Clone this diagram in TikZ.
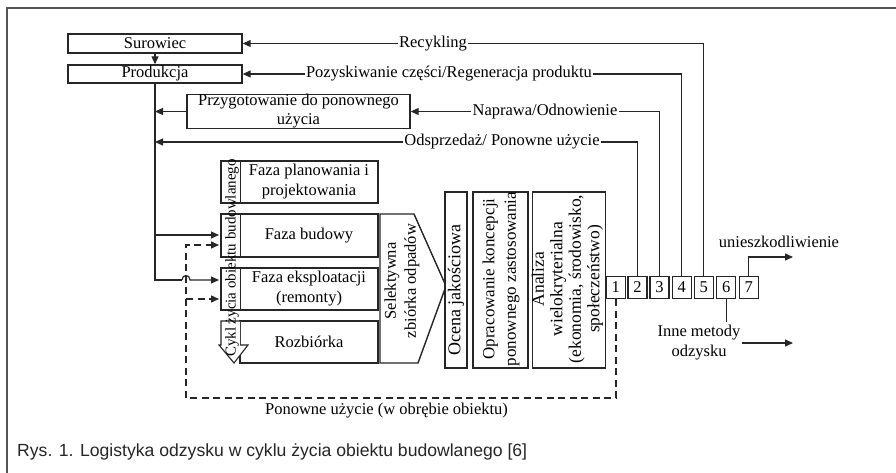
\documentclass[tikz,border=0pt]{standalone}
\usepackage{fontspec}
\setmainfont{Liberation Serif}
\newfontfamily\capfont{Liberation Sans}
\usetikzlibrary{arrows.meta}
\newcommand{\fsz}[2]{\fontsize{#1pt}{#2pt}\selectfont}
\definecolor{lc}{HTML}{262626}
\definecolor{fc}{HTML}{555555}
\begin{document}
\begin{tikzpicture}[x=1pt,y=-1pt,
  every node/.style={font=\fsz{16.5}{19}, text=black},
  ln/.style={draw=lc, line width=1.2pt},
  box/.style={draw=lc, line width=1.4pt, inner sep=0pt, align=center, fill=white},
  arr/.style={ln, -{Triangle[length=8pt,width=7pt]}},
  lbl/.style={fill=white, inner xsep=1.5pt, inner ysep=1pt},
  dsh/.style={ln, line width=1.4pt, dash pattern=on 7pt off 4.5pt},
  rot/.style={rotate=90, align=center, inner sep=0pt},
]
\useasboundingbox (0,0) rectangle (896,473);
% outer frame
\draw[fc, line width=1.2pt] (7,473) -- (7,8) -- (896,8);

% top boxes
\node[box, minimum width=174pt, minimum height=19pt] (sur) at (155,43.5) {Surowiec};
\node[box, minimum width=174pt, minimum height=18pt] (prod) at (155,74) {Produkcja};
\node[box, minimum width=223pt, minimum height=33pt] (prz) at (298.5,111.5) {Przygotowanie do ponownego\\użycia};

% phase boxes
\node[box, minimum width=138pt, minimum height=42pt, font=\fsz{16.5}{20}] (ph1) at (309,182) {Faza planowania i\\projektowania};
\node[box, minimum width=138pt, minimum height=43pt] (ph2) at (309,235.5) {Faza budowy};
\node[box, minimum width=138pt, minimum height=42pt, font=\fsz{16.5}{20}] (ph3) at (309,289) {Faza eksploatacji\\(remonty)};
\node[box, minimum width=138pt, minimum height=42pt] (ph4) at (309,342) {Rozbiórka};

% life cycle arrow
\draw[ln, line width=1.1pt, fill=white] (240,161) -- (221,161) -- (221,203) -- (240,203);
\draw[ln, line width=1.1pt, fill=white] (240,214) -- (221,214) -- (221,257) -- (240,257);
\draw[ln, line width=1.1pt, fill=white] (240,268) -- (221,268) -- (221,310) -- (240,310);
\draw[ln, line width=1.1pt, fill=white] (240,321) -- (221,321) -- (221,345) -- (219,345) -- (234,363) -- (248,345) -- (240,345);
\node[rot, font=\fsz{15}{17}] (cykl) at (232,258) {Cykl życia obiektu budowlanego};

% selective collection
\draw[ln, line width=1.4pt, fill=white] (380,214) -- (414,214) -- (446,286) -- (418,363) -- (380,363) -- cycle;
\node[rot, font=\fsz{16.5}{20}] (sel) at (402,281) {Selektywna\\zbiórka odpadów};

% columns
\node[box, minimum width=22pt, minimum height=176pt] (oc) at (456,280) {};
\node[rot, font=\fsz{18}{20}] (octx) at (456,290) {Ocena jakościowa};
\node[box, minimum width=55pt, minimum height=176pt] (op) at (500.4,280) {};
\node[rot, font=\fsz{17}{21.5}] (optx) at (501,279) {Opracowanie koncepcji\\ponownego zastosowania};
\node[box, minimum width=73pt, minimum height=176pt] (an) at (569.2,280) {};
\node[rot, font=\fsz{17.5}{18.5}] (antx) at (567.5,279) {Analiza\\wielokryterialna\\(ekonomia, środowisko,\\społeczeństwo)};

% number boxes
\foreach \i/\x in {1/615.8,2/637.5,3/659.5,4/681.7,5/703.7,6/726.2,7/748.8}{
  \node[box, minimum width=19pt, minimum height=22pt] (b\i) at (\x,287.5) {\i};
}

% return flows
\draw[arr] (sur.south) -- (prod.north);
\draw[arr] (b5.north) |- (sur.east);
\draw[arr] (b4.north) |- (prod.east);
\draw[arr] (b3.north) |- (prz.east);
\coordinate (odsp) at (155,142);
\draw[arr] (b2.north) |- (odsp);
\draw[arr] (prz.west) -- (prz.west -| prod.south);

% inputs to life cycle
\coordinate (in1) at (219,235);
\coordinate (in2) at (219,245);
\coordinate (in3) at (219,280);
\coordinate (in4) at (219,299);
\coordinate (hopl) at (182,280);
\coordinate (hopr) at (190,280);
\draw[ln] (prod.south) -- (prod.south |- in3) -- (hopl);
\draw[arr] (prod.south |- in1) -- (in1);
\draw[arr] (hopl) .. controls (182,274) and (190,274) .. (hopr) -- (in3);

% dashed reuse loop
\coordinate (dl) at (186,398);
\draw[dsh, -{Triangle[length=8pt,width=7pt]}] (b1.south) |- (dl) |- (in2);
\draw[dsh, -{Triangle[length=8pt,width=7pt]}] (dl |- in4) -- (in4);

% outputs 6 and 7
\node (unie) at (779,242) {unieszkodliwienie};
\coordinate (u7) at (793,257);
\draw[arr] (b7.north) |- (u7);
\node[align=center, inner sep=1pt, font=\fsz{16.5}{20}] (inne) at (699,343) {Inne metody\\odzysku};
\coordinate (s6) at (726.2,321.5);
\draw[ln] (b6.south) -- (s6);
\coordinate (o6) at (793,343);
\draw[arr] (inne.east) -- (o6);

% labels on lines
\node[lbl] (lrec) at (433,43.5) {Recykling};
\node[lbl] (lpoz) at (449,74) {Pozyskiwanie części/Regeneracja produktu};
\node[lbl] (lnap) at (545,111.5) {Naprawa/Odnowienie};
\node[lbl] (lods) at (502,142) {Odsprzedaż/ Ponowne użycie};
\node (lpon) at (386.5,411) {Ponowne użycie (w obrębie obiektu)};

% caption
\node[anchor=base west, inner sep=0pt, font=\capfont\fsz{17.6}{20}, text=black!85] (cap) at (17,456.5) {Rys. 1. Logistyka odzysku w cyklu życia obiektu budowlanego [6]};
\end{tikzpicture}
\end{document}
